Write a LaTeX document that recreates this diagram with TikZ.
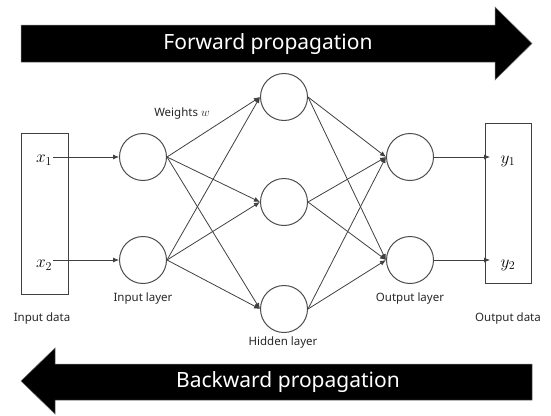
\documentclass[tikz,border=0pt]{standalone}
\usepackage{fontspec}
\setmainfont{Noto Sans}
\usetikzlibrary{arrows.meta}
\begin{document}
\begin{tikzpicture}[x=1pt,y=-1pt,
  neuron/.style={circle,draw=black!70,line width=1pt,minimum size=47pt,inner sep=0pt},
  conn/.style={draw=black!75,line width=0.8pt,-{Latex[length=6pt,width=5pt]}},
  lbl/.style={font=\fontsize{11.5}{13}\selectfont,text=black!85},
  mathlbl/.style={font=\fontsize{17}{20}\selectfont,inner sep=1pt},
  databox/.style={draw=black!75,line width=0.9pt},
  bigarrow/.style={fill=black,draw=black!55,line width=0.5pt},
  bigtext/.style={font=\fontsize{21}{25}\selectfont,text=white}]
\useasboundingbox (0,0) rectangle (551,415);
% big arrows
\path[bigarrow] (21,25) -- (495,25) -- (495,7) -- (532,43.5) -- (495,80) -- (495,62) -- (21,62) -- cycle;
\node[bigtext] (fwd) at (268,44) {Forward propagation};
\path[bigarrow] (532,364) -- (55,364) -- (55,348) -- (21,381) -- (55,414) -- (55,400) -- (532,400) -- cycle;
\node[bigtext] (bwd) at (288,382) {Backward propagation};
% data boxes
\draw[databox] (21,133) rectangle (68,294);
\draw[databox] (485,123) rectangle (531,283);
\node[mathlbl] (x1) at (44,160) {$x_1$};
\node[mathlbl] (x2) at (44,265) {$x_2$};
\node[mathlbl] (y1) at (508,161) {$y_1$};
\node[mathlbl] (y2) at (508,265) {$y_2$};
% neurons
\node[neuron] (i1) at (143,157) {};
\node[neuron] (i2) at (143,260) {};
\node[neuron] (h1) at (284,97) {};
\node[neuron] (h2) at (284,202) {};
\node[neuron] (h3) at (284,309) {};
\node[neuron] (o1) at (410,157) {};
\node[neuron] (o2) at (410,260) {};
% connectors
\draw[conn] (x1.east |- i1) -- (i1.west);
\draw[conn] (x2.east |- i2) -- (i2.west);
\foreach \a in {i1,i2}{\foreach \b in {h1,h2,h3}{\draw[conn] (\a.east) -- (\b.west);}}
\foreach \a in {h1,h2,h3}{\foreach \b in {o1,o2}{\draw[conn] (\a.east) -- (\b.west);}}
\coordinate (t1) at (490,157);
\coordinate (t2) at (490,260);
\draw[conn] (o1.east) -- (t1);
\draw[conn] (o2.east) -- (t2);
% labels
\node[lbl] (wl) at (182,114) {Weights $w$};
\node[lbl] (il) at (143,299) {Input layer};
\node[lbl] (ol) at (410,299) {Output layer};
\node[lbl] (hl) at (283,343) {Hidden layer};
\node[lbl] (id) at (42,319) {Input data};
\node[lbl] (od) at (508,319) {Output data};
\end{tikzpicture}
\end{document}
